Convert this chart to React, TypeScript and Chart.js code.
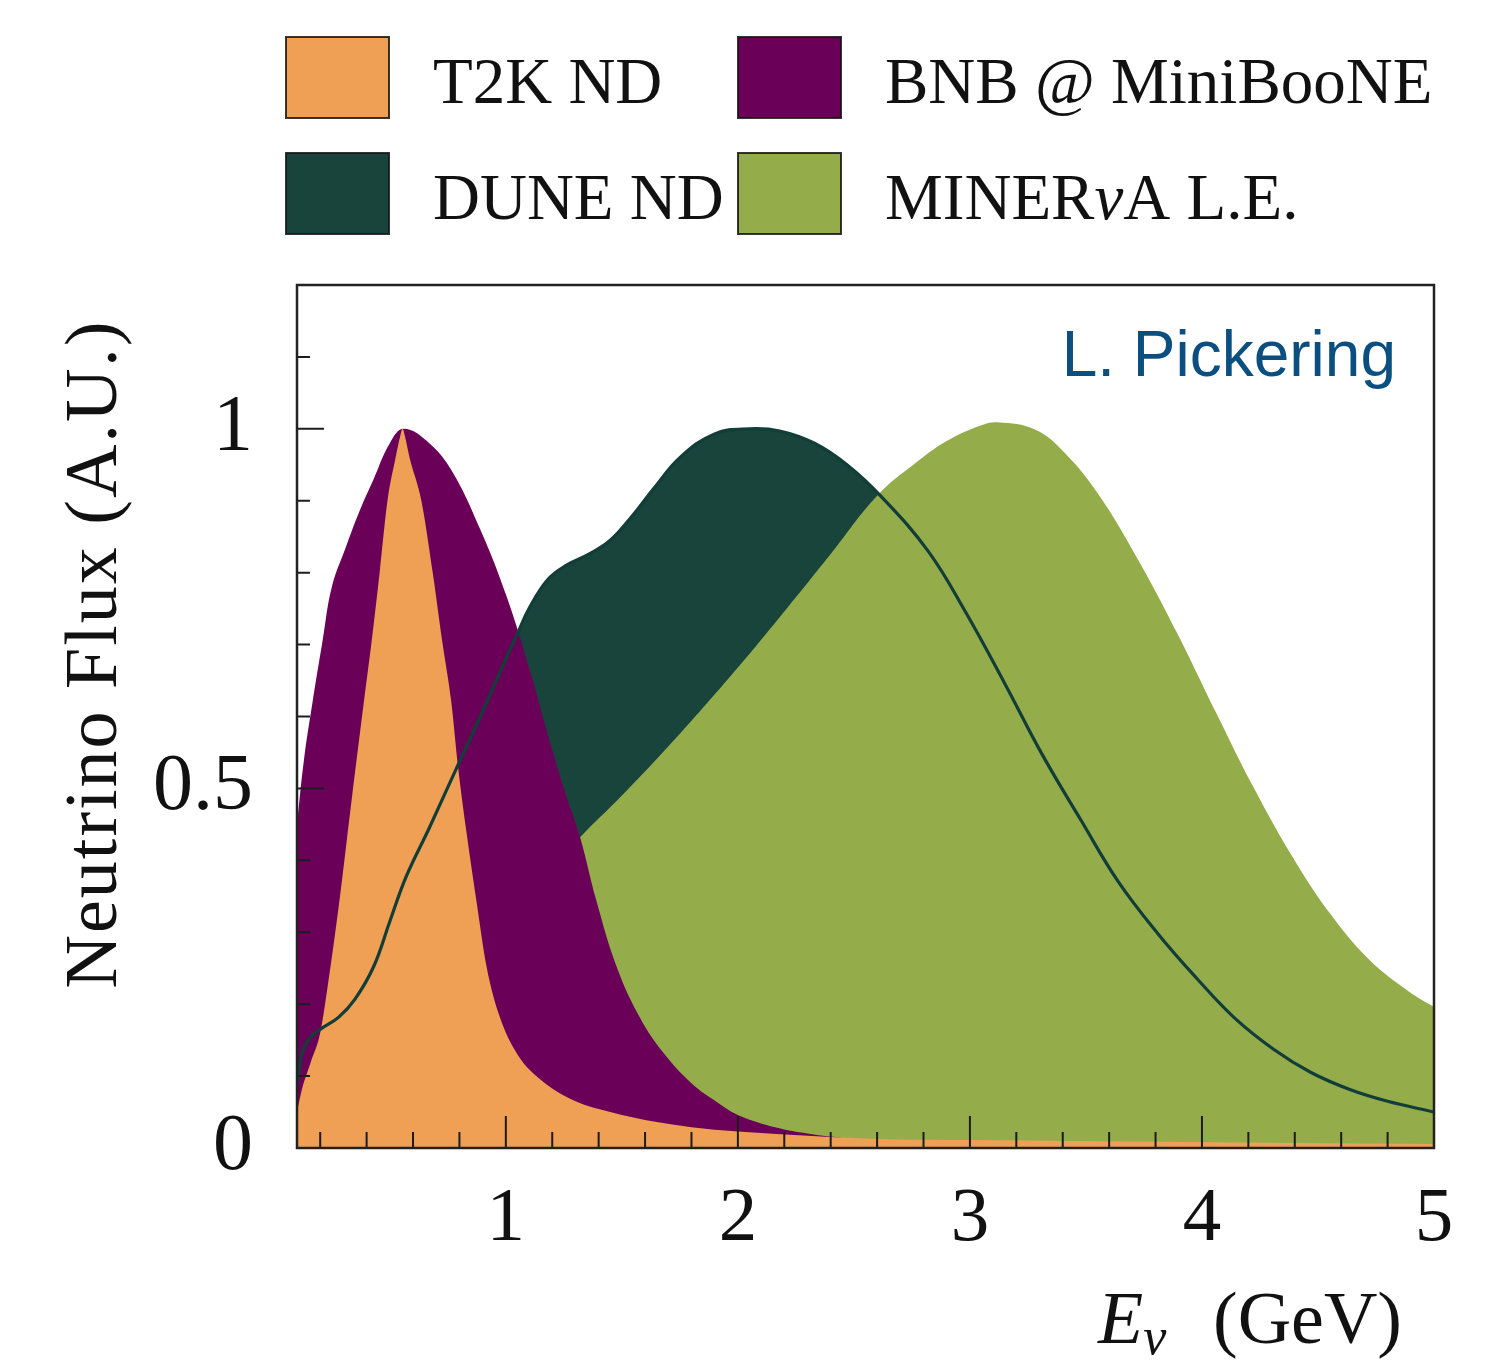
import React, { useEffect, useRef } from 'react';
import { Chart, registerables } from 'chart.js';

Chart.register(...registerables);

// Neutrino energy (GeV) and peak-normalised flux for each beamline
const T2K_ENERGY = [0.1, 0.12, 0.16, 0.2, 0.23, 0.283, 0.335, 0.39, 0.42, 0.456, 0.49, 0.525, 0.545, 0.555, 0.565, 0.585, 0.636, 0.685, 0.728, 0.765, 0.794, 0.83, 0.873, 0.917, 0.974, 1.05, 1.15, 1.3, 1.45, 1.65, 1.8, 2.0, 2.3, 2.6, 3.0, 3.7, 4.4, 5.0];
const T2K_FLUX = [0.05, 0.08, 0.12, 0.16, 0.22, 0.344, 0.483, 0.625, 0.7, 0.8, 0.9, 0.96, 0.99, 1.0, 0.99, 0.96, 0.9, 0.8, 0.7, 0.62, 0.53, 0.44, 0.344, 0.252, 0.182, 0.13, 0.095, 0.065, 0.05, 0.036, 0.029, 0.023, 0.017, 0.0125, 0.011, 0.009, 0.007, 0.0055];

const BNB_ENERGY = [0.1, 0.13, 0.167, 0.21, 0.25, 0.31, 0.37, 0.43, 0.5, 0.56, 0.67, 0.77, 0.89, 1.0, 1.1, 1.18, 1.25, 1.32, 1.39, 1.48, 1.58, 1.68, 1.8, 1.9, 2.0, 2.17, 2.3, 2.45, 2.6, 3.0, 4.0, 5.0];
const BNB_FLUX = [0.45, 0.54, 0.62, 0.705, 0.78, 0.835, 0.886, 0.93, 0.98, 1.0, 0.98, 0.94, 0.86, 0.77, 0.668, 0.576, 0.5, 0.432, 0.344, 0.25, 0.18, 0.132, 0.09, 0.066, 0.046, 0.028, 0.02, 0.014, 0.01, 0.005, 0.002, 0.001];

const DUNE_ENERGY = [0.1, 0.125, 0.16, 0.2, 0.28, 0.35, 0.43, 0.5, 0.57, 0.67, 0.79, 0.89, 1.0, 1.05, 1.1, 1.18, 1.26, 1.36, 1.45, 1.54, 1.64, 1.75, 1.9, 2.05, 2.18, 2.33, 2.47, 2.62, 2.82, 2.98, 3.15, 3.31, 3.48, 3.64, 3.81, 3.98, 4.14, 4.31, 4.47, 4.64, 4.8, 5.0];
const DUNE_FLUX = [0.09, 0.135, 0.155, 0.165, 0.182, 0.207, 0.252, 0.315, 0.377, 0.445, 0.53, 0.6, 0.68, 0.715, 0.75, 0.79, 0.81, 0.826, 0.845, 0.877, 0.918, 0.96, 0.993, 1.0, 0.997, 0.98, 0.95, 0.905, 0.83, 0.746, 0.646, 0.548, 0.455, 0.37, 0.298, 0.235, 0.181, 0.137, 0.105, 0.081, 0.065, 0.05];

const MINERVA_ENERGY = [0.1, 0.4, 0.7, 1.0, 1.32, 1.5, 1.75, 2.0, 2.18, 2.4, 2.6, 2.76, 2.9, 3.05, 3.12, 3.28, 3.41, 3.56, 3.73, 3.89, 4.06, 4.22, 4.39, 4.55, 4.72, 4.89, 5.0];
const MINERVA_FLUX = [0.0, 0.05, 0.16, 0.32, 0.432, 0.49, 0.576, 0.668, 0.738, 0.826, 0.907, 0.951, 0.983, 1.005, 1.009, 0.999, 0.966, 0.906, 0.815, 0.718, 0.606, 0.503, 0.405, 0.327, 0.262, 0.218, 0.196];

// Legend entries (two columns, read row by row)
const SERIES_LABELS = ['T2K ND', 'BNB @ MiniBooNE', 'DUNE ND', 'MINERνA L.E.'];
const SERIES_COLORS = ['#f0a054', '#6b0058', '#18443b', '#94ad4a'];
const DUNE_LINE_COLOR = '#123d39';

// Axes
const X_RANGE = [0.1, 5];
const Y_RANGE = [0, 1.2];
const X_TICKS = [0.2, 0.4, 0.6, 0.8, 1, 1.2, 1.4, 1.6, 1.8, 2, 2.2, 2.4, 2.6, 2.8, 3, 3.2, 3.4, 3.6, 3.8, 4, 4.2, 4.4, 4.6, 4.8, 5];
const X_LABELLED = [1, 2, 3, 4, 5];
const Y_TICKS = [0, 0.1, 0.2, 0.3, 0.4, 0.5, 0.6, 0.7, 0.8, 0.9, 1, 1.1];
const Y_LABELLED = [0, 0.5, 1];
const Y_TITLE = 'Neutrino Flux (A.U.)';
const X_TITLE_UNIT = '(GeV)';
const CREDIT = 'L. Pickering';

const SERIF = '"Liberation Serif", "Times New Roman", serif';
const SANS = '"Liberation Sans", Arial, sans-serif';

type Part = { text: string; font: string; dy?: number };

function drawParts(ctx: CanvasRenderingContext2D, parts: Part[], x: number, y: number, align: 'left' | 'right') {
  const widths = parts.map((p) => {
    ctx.font = p.font;
    return ctx.measureText(p.text).width;
  });
  const total = widths.reduce((a, b) => a + b, 0);
  let cx = align === 'right' ? x - total : x;
  ctx.textAlign = 'left';
  ctx.textBaseline = 'alphabetic';
  parts.forEach((p, i) => {
    ctx.font = p.font;
    ctx.fillText(p.text, cx, y + (p.dy || 0));
    cx += widths[i];
  });
}

// Splits a label so that the Greek nu is set in italics
function labelParts(label: string, size: number): Part[] {
  const pieces = label.split('ν');
  const parts: Part[] = [];
  pieces.forEach((piece, i) => {
    if (piece) parts.push({ text: piece, font: `${size}px ${SERIF}` });
    if (i < pieces.length - 1) parts.push({ text: 'ν', font: `italic ${size}px ${SERIF}` });
  });
  return parts;
}

const toPoints = (xs: number[], ys: number[]) => xs.map((x, i) => ({ x, y: ys[i] }));

const frameAndTicks = {
  id: 'frameAndTicks',
  afterDatasetsDraw(chart: any) {
    const { ctx, chartArea: a, scales } = chart;
    const xs = scales.x;
    const ys = scales.y;
    ctx.save();
    ctx.strokeStyle = '#1c1c1c';
    ctx.lineWidth = 2;
    ctx.beginPath();
    xs.ticks.forEach((t: any) => {
      const px = xs.getPixelForValue(t.value);
      const len = X_LABELLED.includes(t.value) ? 32 : 16;
      ctx.moveTo(px, a.bottom);
      ctx.lineTo(px, a.bottom - len);
    });
    ys.ticks.forEach((t: any) => {
      if (t.value === Y_RANGE[0]) return;
      const py = ys.getPixelForValue(t.value);
      const len = Y_LABELLED.includes(t.value) ? 27 : 13;
      ctx.moveTo(a.left, py);
      ctx.lineTo(a.left + len, py);
    });
    ctx.stroke();
    ctx.lineWidth = 2.5;
    ctx.strokeStyle = '#222';
    ctx.strokeRect(a.left, a.top, a.right - a.left, a.bottom - a.top);
    ctx.restore();
  },
};

const annotations = {
  id: 'annotations',
  afterDraw(chart: any) {
    const { ctx } = chart;
    ctx.save();
    ctx.fillStyle = '#111';

    // legend, two columns
    const cols = [286, 738];
    const rows = [37, 153];
    SERIES_LABELS.forEach((label, i) => {
      const bx = cols[i % 2];
      const by = rows[Math.floor(i / 2)];
      ctx.fillStyle = SERIES_COLORS[i];
      ctx.fillRect(bx, by, 103, 81);
      ctx.strokeStyle = 'rgba(20,20,20,0.85)';
      ctx.lineWidth = 2;
      ctx.strokeRect(bx, by, 103, 81);
      ctx.fillStyle = '#111';
      drawParts(ctx, labelParts(label, 65), bx + 147, by + 66, 'left');
    });

    // y-axis title
    ctx.save();
    ctx.translate(116, 654);
    ctx.rotate(-Math.PI / 2);
    ctx.font = `74px ${SERIF}`;
    (ctx as any).letterSpacing = '2px';
    ctx.textAlign = 'center';
    ctx.textBaseline = 'alphabetic';
    ctx.fillStyle = '#111';
    ctx.fillText(Y_TITLE, 0, 0);
    ctx.restore();

    // x-axis title: italic E with subscript nu, then the unit
    ctx.fillStyle = '#111';
    drawParts(
      ctx,
      [
        { text: 'E', font: `italic 74px ${SERIF}` },
        { text: 'ν', font: `italic 52px ${SERIF}`, dy: 11 },
      ],
      1098,
      1343,
      'left'
    );
    drawParts(ctx, [{ text: X_TITLE_UNIT, font: `74px ${SERIF}` }], 1402, 1343, 'right');

    // credit
    ctx.fillStyle = '#0b4f80';
    drawParts(ctx, [{ text: CREDIT, font: `64px ${SANS}` }], 1396, 376, 'right');
    ctx.restore();
  },
};

export default function App() {
  const ref = useRef<HTMLCanvasElement>(null);

  useEffect(() => {
    if (!ref.current) return;
    const fillSet = (label: string, xs: number[], ys: number[], color: string, order: number, smooth: 'monotone' | 'default') => ({
      label,
      data: toPoints(xs, ys),
      backgroundColor: color,
      borderColor: 'rgba(0,0,0,0)',
      borderWidth: 0,
      fill: 'origin',
      pointRadius: 0,
      cubicInterpolationMode: smooth,
      tension: 0.4,
      order,
    });

    const chart = new Chart(ref.current, {
      type: 'line',
      data: {
        datasets: [
          {
            label: 'DUNE ND outline',
            data: toPoints(DUNE_ENERGY, DUNE_FLUX),
            borderColor: DUNE_LINE_COLOR,
            borderWidth: 3.2,
            fill: false,
            pointRadius: 0,
            cubicInterpolationMode: 'default',
            tension: 0.4,
            order: 0,
          },
          fillSet(SERIES_LABELS[0], T2K_ENERGY, T2K_FLUX, SERIES_COLORS[0], 1, 'monotone'),
          fillSet(SERIES_LABELS[1], BNB_ENERGY, BNB_FLUX, SERIES_COLORS[1], 2, 'default'),
          fillSet(SERIES_LABELS[3], MINERVA_ENERGY, MINERVA_FLUX, SERIES_COLORS[3], 3, 'default'),
          fillSet(SERIES_LABELS[2], DUNE_ENERGY, DUNE_FLUX, SERIES_COLORS[2], 4, 'default'),
        ] as any,
      },
      options: {
        responsive: false,
        animation: false,
        devicePixelRatio: 1,
        layout: { padding: { left: 0, top: 285, right: 62, bottom: 0 } },
        plugins: {
          legend: { display: false },
          tooltip: { enabled: false },
          title: { display: false },
        },
        scales: {
          x: {
            type: 'linear',
            min: X_RANGE[0],
            max: X_RANGE[1],
            grid: { display: false, drawTicks: false },
            border: { display: false },
            afterBuildTicks: (scale: any) => {
              scale.ticks = X_TICKS.map((value) => ({ value }));
            },
            afterFit: (scale: any) => {
              scale.height = 214;
            },
            ticks: {
              autoSkip: false,
              maxRotation: 0,
              minRotation: 0,
              padding: 26,
              color: '#111',
              font: { family: SERIF, size: 77 },
              callback: (value: any) => (X_LABELLED.includes(value) ? String(value) : ''),
            },
          },
          y: {
            type: 'linear',
            min: Y_RANGE[0],
            max: Y_RANGE[1],
            grid: { display: false, drawTicks: false },
            border: { display: false },
            afterBuildTicks: (scale: any) => {
              scale.ticks = Y_TICKS.map((value) => ({ value }));
            },
            afterFit: (scale: any) => {
              scale.width = 297;
            },
            ticks: {
              autoSkip: false,
              padding: 44,
              color: '#111',
              font: { family: SERIF, size: 80 },
              callback: (value: any) => (Y_LABELLED.includes(value) ? String(value) : ''),
            },
          },
        },
      },
      plugins: [frameAndTicks, annotations],
    } as any);

    return () => chart.destroy();
  }, []);

  return (
    <div style={{ position: 'absolute', left: 0, top: 0, width: 1496, height: 1362, background: '#fff' }}>
      <canvas ref={ref} width={1496} height={1362} style={{ display: 'block' }} />
    </div>
  );
}
